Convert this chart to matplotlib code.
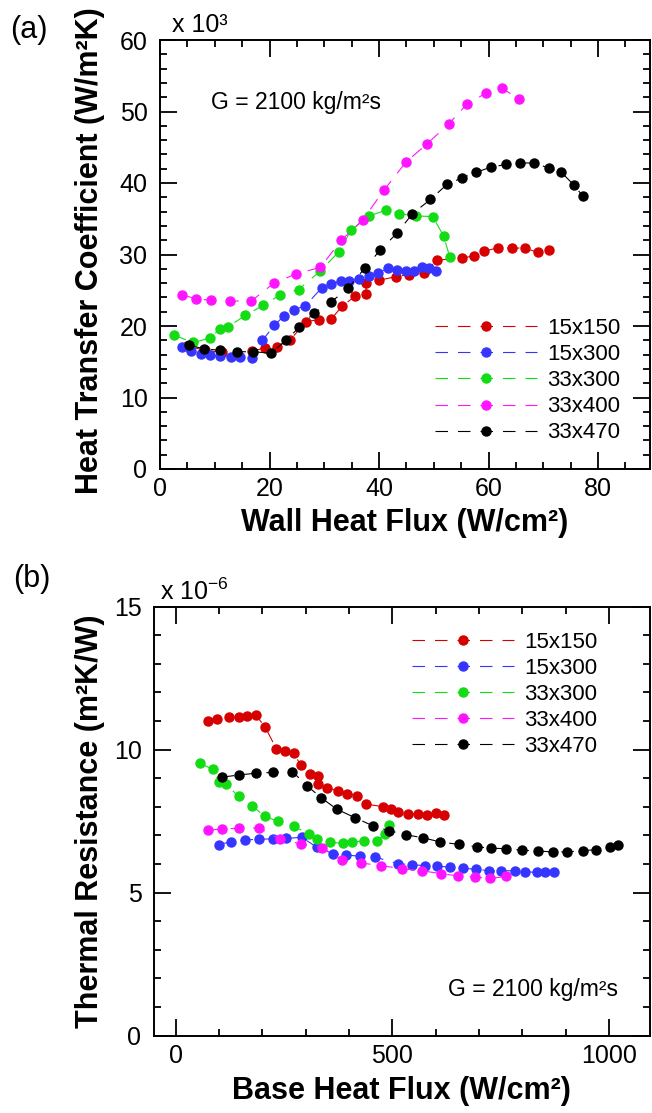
import matplotlib
matplotlib.use('Agg')
import matplotlib.pyplot as plt
from matplotlib.ticker import MultipleLocator

plt.rcParams['font.family'] = ['Liberation Sans', 'DejaVu Sans']
plt.rcParams['mathtext.fontset'] = 'custom'
plt.rcParams['mathtext.rm'] = 'Liberation Sans'
plt.rcParams['mathtext.it'] = 'Liberation Sans:italic'
plt.rcParams['mathtext.bf'] = 'Liberation Sans:bold'
plt.rcParams['lines.scale_dashes'] = False

# ---------------- data ----------------
series_names = ['15x150', '15x300', '33x300', '33x400', '33x470']
colors = ['#d60000', '#3535ff', '#14dc14', '#ff14ff', '#000000']

# (a) wall heat flux (W/cm^2) vs heat transfer coefficient (x 10^3 W/m^2K)
a_15x150_x = [4.9, 8.2, 11.3, 14.3, 16.8, 19.1, 21.3, 23.8, 26.7, 29.0, 31.3, 33.3, 35.7, 37.6,
              37.7, 40.0, 43.1, 45.5, 48.3, 50.5, 55.1, 57.3, 59.2, 61.7, 64.3, 66.6, 69.0, 71.1]
a_15x150_y = [17.2, 16.6, 16.3, 15.9, 16.5, 16.9, 17.1, 18.1, 20.6, 20.9, 21.0, 22.8, 24.2, 24.5,
              26.0, 26.4, 26.9, 27.2, 27.4, 29.2, 29.5, 29.8, 30.5, 30.9, 30.9, 30.9, 30.3, 30.6]
a_15x300_x = [4.1, 5.7, 7.4, 9.1, 11.0, 12.9, 14.7, 16.8, 18.7, 20.9, 22.6, 24.5, 26.5, 29.5,
              31.3, 33.1, 34.6, 36.4, 38.1, 39.9, 41.6, 43.3, 45.0, 46.3, 47.9, 49.2, 50.4]
a_15x300_y = [17.0, 16.5, 16.1, 15.9, 15.8, 15.7, 15.6, 15.5, 18.0, 20.1, 21.4, 22.3, 22.8, 25.3,
              25.9, 26.3, 26.3, 26.6, 27.0, 27.4, 28.1, 27.9, 27.7, 27.7, 28.3, 28.1, 27.7]
a_33x300_x = [2.6, 6.0, 9.2, 10.9, 12.5, 15.6, 18.9, 22.0, 25.3, 29.3, 32.7, 34.9, 38.2, 41.3,
              43.7, 46.7, 49.8, 51.8, 52.9]
a_33x300_y = [18.7, 17.7, 18.3, 19.6, 19.9, 21.5, 22.9, 24.4, 25.1, 27.7, 30.4, 33.4, 35.4, 36.2,
              35.7, 35.4, 35.3, 32.6, 29.7]
a_33x400_x = [4.0, 6.5, 9.3, 12.7, 16.7, 20.8, 24.9, 29.3, 33.1, 37.0, 40.9, 44.9, 48.8, 52.8,
              56.0, 59.6, 62.4, 65.6]
a_33x400_y = [24.4, 23.8, 23.6, 23.5, 23.5, 26.0, 27.3, 28.2, 32.0, 34.8, 39.0, 42.9, 45.5, 48.3,
              51.0, 52.6, 53.3, 51.7]
a_33x470_x = [5.3, 8.1, 11.0, 14.0, 17.0, 20.3, 23.0, 25.4, 28.1, 31.3, 34.4, 37.4, 40.2, 43.3,
              46.1, 49.4, 52.4, 55.1, 57.7, 60.4, 63.2, 65.7, 68.3, 71.0, 73.3, 75.6, 77.2]
a_33x470_y = [17.3, 16.8, 16.6, 16.4, 16.4, 16.2, 18.0, 19.8, 21.8, 23.4, 25.3, 28.1, 30.6, 33.0,
              35.7, 37.7, 39.8, 40.7, 41.5, 42.2, 42.6, 42.8, 42.8, 42.1, 41.5, 39.7, 38.2]

# (b) base heat flux (W/cm^2) vs thermal resistance (x 10^-6 m^2K/W)
b_15x150_x = [75, 96, 124, 145, 165, 185, 206, 232, 252, 272, 289, 309, 328, 328, 348, 375, 395,
              419, 439, 479, 496, 514, 536, 558, 579, 600, 618]
b_15x150_y = [10.98, 11.06, 11.13, 11.14, 11.18, 11.19, 10.80, 10.03, 9.95, 9.87, 9.45, 9.14, 9.06,
              8.79, 8.67, 8.55, 8.46, 8.38, 8.09, 8.00, 7.93, 7.83, 7.75, 7.74, 7.72, 7.77, 7.72]
b_15x300_x = [99, 128, 159, 193, 225, 255, 291, 325, 362, 393, 425, 460, 512, 545, 574, 602, 632,
              662, 692, 722, 751, 782, 806, 833, 852, 873]
b_15x300_y = [6.67, 6.78, 6.84, 6.86, 6.88, 6.89, 6.93, 6.59, 6.36, 6.31, 6.27, 6.24, 6.01, 5.97,
              5.94, 5.92, 5.89, 5.84, 5.82, 5.76, 5.76, 5.76, 5.73, 5.70, 5.71, 5.71]
b_33x300_x = [56, 85, 101, 116, 145, 176, 205, 235, 274, 307, 326, 355, 385, 407, 435, 464, 482, 493]
b_33x300_y = [9.52, 9.31, 8.86, 8.79, 8.36, 8.03, 7.67, 7.49, 7.31, 7.04, 6.86, 6.76, 6.72, 6.76,
              6.81, 6.79, 7.04, 7.35]
b_33x400_x = [75, 108, 147, 192, 241, 290, 338, 384, 428, 474, 522, 568, 612, 651, 691, 725, 762]
b_33x400_y = [7.17, 7.23, 7.24, 7.26, 6.86, 6.70, 6.57, 6.13, 6.03, 5.94, 5.83, 5.76, 5.66, 5.58,
              5.54, 5.49, 5.56]
b_33x470_x = [106, 146, 185, 225, 269, 304, 335, 372, 413, 455, 493, 531, 571, 610, 653, 694, 728,
              763, 799, 835, 870, 902, 939, 969, 1002, 1021]
b_33x470_y = [9.03, 9.11, 9.17, 9.20, 9.23, 8.72, 8.32, 7.91, 7.62, 7.33, 7.16, 7.02, 6.91, 6.77,
              6.68, 6.60, 6.55, 6.53, 6.48, 6.45, 6.42, 6.42, 6.46, 6.50, 6.60, 6.67]

a_x = [a_15x150_x, a_15x300_x, a_33x300_x, a_33x400_x, a_33x470_x]
a_y = [a_15x150_y, a_15x300_y, a_33x300_y, a_33x400_y, a_33x470_y]
b_x = [b_15x150_x, b_15x300_x, b_33x300_x, b_33x400_x, b_33x470_x]
b_y = [b_15x150_y, b_15x300_y, b_33x300_y, b_33x400_y, b_33x470_y]

W, H = 652, 1113
fig = plt.figure(figsize=(W / 100, H / 100), dpi=100)

ax1 = fig.add_axes([160 / W, 1 - 469 / H, 489.5 / W, 429 / H])
ax2 = fig.add_axes([154 / W, 1 - 1035.5 / H, 495.5 / W, 429 / H])

dash = (0, (9, 7.2))


def style(ax):
    for s in ax.spines.values():
        s.set_linewidth(1.4)
    ax.tick_params(which='both', direction='in', top=True, right=True,
                   labelsize=18, width=1.3, color='black')
    ax.tick_params(which='major', length=12)
    ax.tick_params(which='minor', length=4.8)
    ax.tick_params(axis='x', pad=6)
    ax.tick_params(axis='y', pad=9)


for xs, ys, c, n in zip(a_x, a_y, colors, series_names):
    ax1.plot(xs, ys, linestyle=dash, lw=0.8, color=c, marker='o', ms=6.5,
             mec=c, mfc=c, label=n)
ax1.set_xlim(0, 89.4)
ax1.set_ylim(0, 60)
ax1.xaxis.set_major_locator(MultipleLocator(20))
ax1.xaxis.set_minor_locator(MultipleLocator(5))
ax1.yaxis.set_major_locator(MultipleLocator(10))
ax1.yaxis.set_minor_locator(MultipleLocator(2))
style(ax1)
ax1.set_xlabel('Wall Heat Flux (W/cm²)', fontsize=22, fontweight='bold')
ax1.set_ylabel('Heat Transfer Coefficient (W/m²K)', fontsize=22, fontweight='bold')
ax1.xaxis.set_label_coords(0.5, -0.09)
ax1.yaxis.set_label_coords(-0.112, 0.51)
ax1.legend(loc='upper left', bbox_to_anchor=(0.562, 0.352), frameon=False, numpoints=1,
           handlelength=4.6, handletextpad=0.45, labelspacing=0.23, fontsize=16,
           borderpad=0, borderaxespad=0)

for xs, ys, c, n in zip(b_x, b_y, colors, series_names):
    ax2.plot(xs, ys, linestyle=dash, lw=0.8, color=c, marker='o', ms=6.5,
             mec=c, mfc=c, label=n)
ax2.set_xlim(-50, 1093)
ax2.set_ylim(0, 15)
ax2.xaxis.set_major_locator(MultipleLocator(500))
ax2.xaxis.set_minor_locator(MultipleLocator(100))
ax2.yaxis.set_major_locator(MultipleLocator(5))
ax2.yaxis.set_minor_locator(MultipleLocator(1))
style(ax2)
ax2.set_xlabel('Base Heat Flux (W/cm²)', fontsize=22, fontweight='bold')
ax2.set_ylabel('Thermal Resistance (m²K/W)', fontsize=22, fontweight='bold')
ax2.xaxis.set_label_coords(0.5, -0.095)
ax2.yaxis.set_label_coords(-0.098, 0.5)
ax2.legend(loc='upper left', bbox_to_anchor=(0.52, 0.941), frameon=False, numpoints=1,
           handlelength=4.6, handletextpad=0.45, labelspacing=0.23, fontsize=16,
           borderpad=0, borderaxespad=0)

fig.text(211 / W, 1 - 109 / H, 'G = 2100 kg/m²s', fontsize=16.5, va='baseline')
fig.text(448 / W, 1 - 996 / H, 'G = 2100 kg/m²s', fontsize=16.5, va='baseline')
fig.text(172 / W, 1 - 32 / H, 'x 10³', fontsize=18, va='baseline')
fig.text(160 / W, 1 - 600 / H, r'x 10$^{-6}$', fontsize=18, va='baseline')
fig.text(10 / W, 1 - 38 / H, '(a)', fontsize=22, va='baseline')
fig.text(13 / W, 1 - 587 / H, '(b)', fontsize=22, va='baseline')

fig.savefig('out.png', dpi=100)
